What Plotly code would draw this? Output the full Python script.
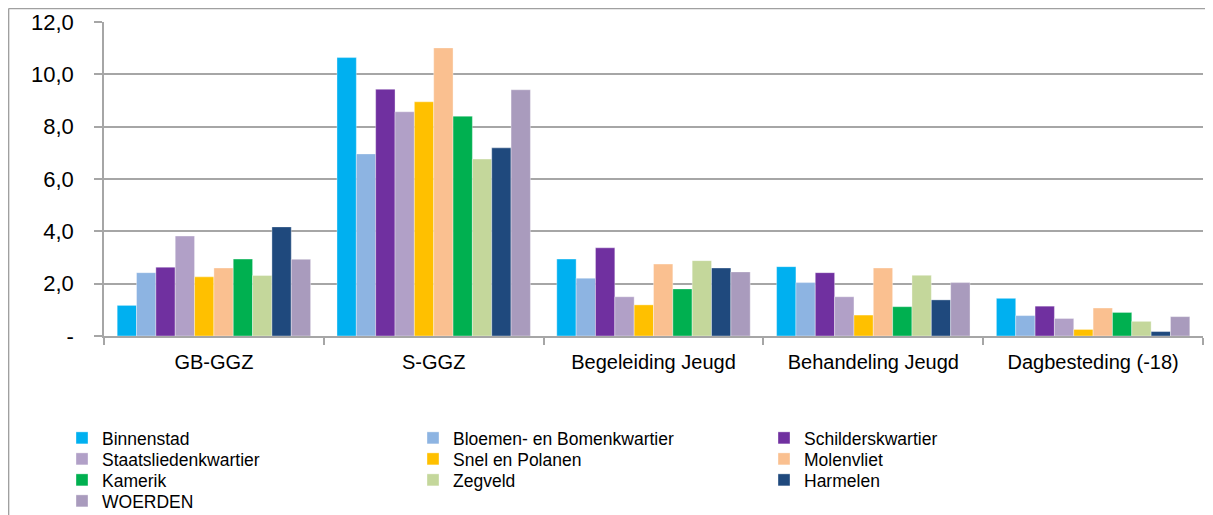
import plotly.graph_objects as go

categories = ["GB-GGZ", "S-GGZ", "Begeleiding Jeugd", "Behandeling Jeugd", "Dagbesteding (-18)"]

series_names = [
    "Binnenstad", "Bloemen- en Bomenkwartier", "Schilderskwartier",
    "Staatsliedenkwartier", "Snel en Polanen", "Molenvliet",
    "Kamerik", "Zegveld", "Harmelen", "WOERDEN",
]

binnenstad = [1.17, 10.64, 2.94, 2.65, 1.44]
bloemen = [2.42, 6.96, 2.21, 2.04, 0.78]
schilders = [2.63, 9.43, 3.37, 2.42, 1.14]
staatslieden = [3.82, 8.57, 1.50, 1.50, 0.67]
snel = [2.26, 8.95, 1.19, 0.80, 0.25]
molenvliet = [2.60, 11.01, 2.75, 2.60, 1.07]
kamerik = [2.94, 8.40, 1.80, 1.12, 0.90]
zegveld = [2.31, 6.76, 2.88, 2.32, 0.56]
harmelen = [4.17, 7.19, 2.60, 1.38, 0.17]
woerden = [2.93, 9.41, 2.45, 2.04, 0.74]

colors = ["#00B0F0", "#8DB4E2", "#7030A0", "#B1A0C7", "#FFC000",
          "#FAC090", "#00B050", "#C4D79B", "#1F497D", "#A99BBD"]

ytick_vals = [0, 2, 4, 6, 8, 10, 12]
ytick_text = ["-", "2,0", "4,0", "6,0", "8,0", "10,0", "12,0"]

all_values = [binnenstad, bloemen, schilders, staatslieden, snel,
              molenvliet, kamerik, zegveld, harmelen, woerden]

# legend rows (3 entries per row, like the reference)
legend_ids = ["legend", "legend2", "legend3", "legend4"]

fig = go.Figure()
for i, (name, vals, col) in enumerate(zip(series_names, all_values, colors)):
    fig.add_trace(go.Bar(
        x=categories, y=vals, name=name,
        legend=legend_ids[i // 3],
        marker=dict(color=col, line=dict(color="rgba(255,255,255,0.6)", width=0.6)),
    ))

# page body has an 8px margin: figure coordinates = screen - 8
OFF = 8
W, H = 1213 - OFF, 515 - OFF
L, R, T, B = 104 - OFF, 10, 22 - OFF, 515 - 336
pw = W - L - R
ph = H - T - B

def px_x(sx):
    return (sx - OFF - L) / pw

def px_y(sy):
    return (H - B - (sy - OFF)) / ph

grid_col = "#A6A6A6"
font_family = "Liberation Sans, Arial, sans-serif"

row_centers = [438, 459, 480, 501]

def legend_row(yc):
    return dict(
        orientation="h",
        x=px_x(62), xanchor="left",
        y=px_y(yc), yanchor="middle",
        entrywidth=306, entrywidthmode="pixels",
        font=dict(size=17.5, family=font_family, color="#000000"),
        traceorder="normal",
        itemwidth=30,
        tracegroupgap=0,
        bgcolor="rgba(0,0,0,0)",
    )

fig.update_layout(
    width=W, height=H,
    margin=dict(l=L, r=R, t=T, b=B, autoexpand=False),
    paper_bgcolor="white", plot_bgcolor="white",
    barmode="group", bargap=0.12, bargroupgap=0,
    font=dict(family=font_family, color="#000000"),
    showlegend=True,
    legend=legend_row(row_centers[0]),
    legend2=legend_row(row_centers[1]),
    legend3=legend_row(row_centers[2]),
    legend4=legend_row(row_centers[3]),
    xaxis=dict(
        type="category",
        range=[-0.5, 4.5],
        showline=True, linecolor=grid_col, linewidth=1.5,
        ticks="outside", tickson="boundaries", ticklen=7, tickcolor=grid_col, tickwidth=1.5,
        tickfont=dict(size=20, family=font_family, color="#000000"),
        ticklabelstandoff=7,
        showgrid=False,
    ),
    yaxis=dict(
        range=[0, 12],
        tickvals=ytick_vals, ticktext=ytick_text,
        showline=True, linecolor=grid_col, linewidth=1.5,
        ticks="outside", ticklen=8, tickcolor=grid_col, tickwidth=1.5,
        showgrid=True, gridcolor=grid_col, gridwidth=1.5,
        zeroline=False,
        tickfont=dict(size=22, family=font_family, color="#000000"),
        ticklabelstandoff=16,
    ),
    shapes=[
        dict(type="line", xref="paper", yref="paper",
             x0=px_x(8.6), x1=px_x(1213), y0=px_y(8.6), y1=px_y(8.6),
             line=dict(color="#A0A0A0", width=1.5)),
        dict(type="line", xref="paper", yref="paper",
             x0=px_x(8.6), x1=px_x(8.6), y0=px_y(8.6), y1=px_y(520),
             line=dict(color="#A0A0A0", width=1.5)),
    ],
)

fig.write_html("out.html")
